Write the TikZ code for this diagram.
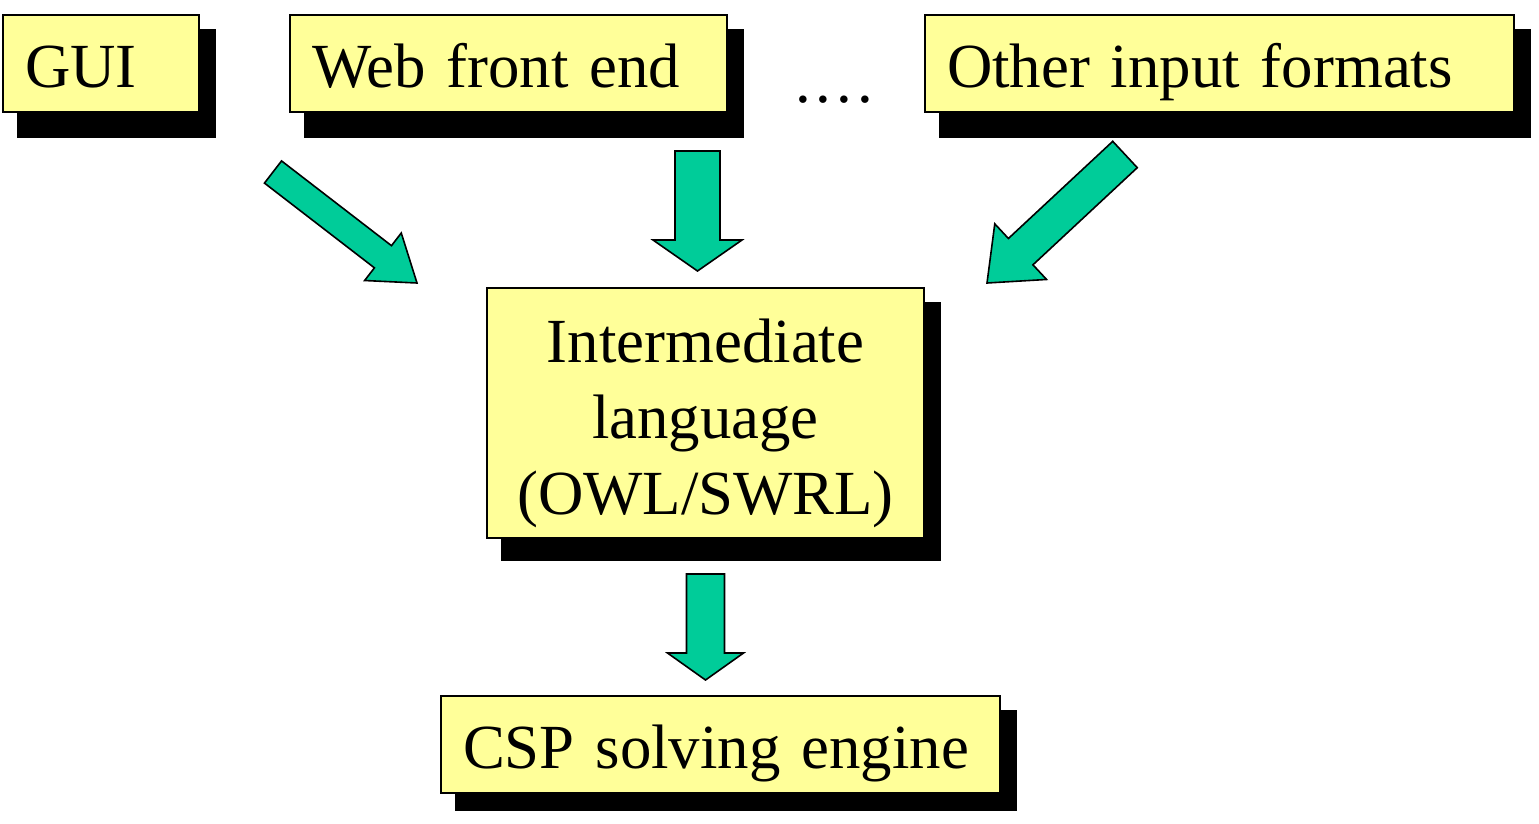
\documentclass[tikz,border=0pt]{standalone}
\usepackage{fontspec}
\setmainfont{Liberation Serif}
\usetikzlibrary{calc,backgrounds}
\definecolor{boxyellow}{HTML}{FFFF99}
\definecolor{arrowgreen}{HTML}{00CC99}
% block arrow: tail, tip, half shaft, head length, half head
\newcommand{\blockarrow}[5]{%
  \path (#2) coordinate (ba-h) ($(#2)!#4!(#1)$) coordinate (ba-b);
  \draw[fatarrow] ($(#1)!#3!90:(ba-h)$) -- ($(ba-b)!#3!-90:(#1)$) -- ($(ba-b)!#5!-90:(#1)$)
    -- (ba-h) -- ($(ba-b)!#5!90:(#1)$) -- ($(ba-b)!#3!90:(#1)$) -- ($(#1)!#3!-90:(ba-h)$) -- cycle;}

\begin{document}
\begin{tikzpicture}[x=1pt,y=-1pt,
  box/.style={draw=black,line width=1.2pt,fill=boxyellow,inner xsep=22pt,inner ysep=0pt,
    align=left,minimum height=97pt,text height=54pt,text depth=6pt,
    font=\fontsize{62.8}{76}\selectfont},
  fatarrow/.style={draw=black,line width=1.6pt,fill=arrowgreen,line join=miter}]
\useasboundingbox (0,0) rectangle (1539,823);

\node[box,text width=152pt] (gui) at (101,63.5) {GUI};
\node[box,text width=393pt] (web) at (508.5,63.5) {Web front end};
\node[box,text width=545pt] (other) at (1219.5,63.5) {Other input formats};
\node[anchor=base,inner sep=0pt,font=\fontsize{62.8}{76}\selectfont] (dots) at (834,102) {.\kern5pt.\kern5pt.\kern5pt.};
\node[box,align=center,text width=393pt,minimum height=250pt,text height={},text depth={}] (inter) at (705.5,413)
  {\rule{0pt}{64pt}Intermediate\\language\\(OWL/SWRL)};
\node[box,text width=515pt] (csp) at (720.5,744.5) {CSP solving engine};

\begin{scope}[on background layer]
\foreach \n/\d in {gui/25,web/25,other/25,inter/22,csp/17}
  \fill ([shift={(15,15)}]\n.north west) rectangle ([shift={(16,\d)}]\n.south east);
\end{scope}

\coordinate (a1t) at (273,172);    \coordinate (a1h) at (417,283);
\coordinate (a2t) at (697.5,151);  \coordinate (a2h) at (697.5,271);
\coordinate (a3t) at (1125,154.5); \coordinate (a3h) at (987,283);
\coordinate (a4t) at (705.5,574);  \coordinate (a4h) at (705.5,680);
\blockarrow{a1t}{a1h}{14pt}{43pt}{30pt}
\blockarrow{a2t}{a2h}{22.5pt}{31pt}{44.5pt}
\blockarrow{a3t}{a3h}{18pt}{46pt}{38pt}
\blockarrow{a4t}{a4h}{19pt}{27pt}{38pt}
\end{tikzpicture}
\end{document}
